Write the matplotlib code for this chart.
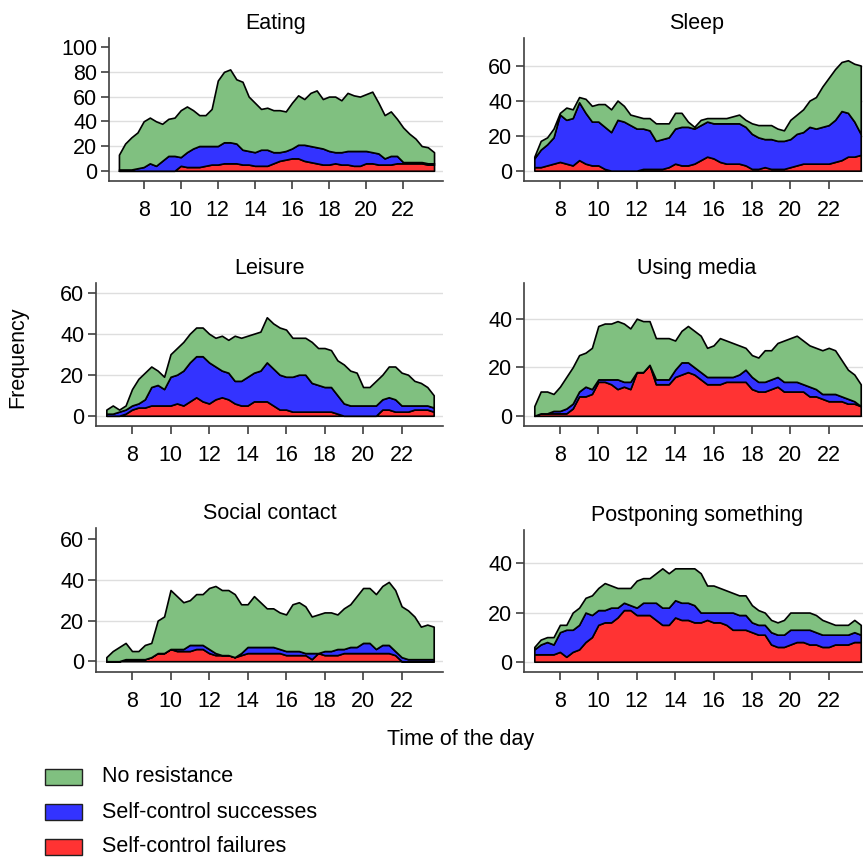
import numpy as np
import matplotlib
matplotlib.use("Agg")
import matplotlib.pyplot as plt
from matplotlib.patches import Rectangle

plt.rcParams['font.family'] = ['Liberation Sans', 'DejaVu Sans']

# 20-minute bins from 6:40 to 23:40
hours = np.linspace(20 / 3, 71 / 3, 52)

series_names = ["No resistance", "Self-control successes", "Self-control failures"]
GREEN, BLUE, RED = "#80c080", "#3333ff", "#ff3333"

eating_fail = [0, 0, 0, 0, 0, 0, 0, 0, 0, 0, 4, 3, 3, 3, 4, 5, 5, 6, 6, 6, 5, 5, 4, 4, 4, 6,
               8, 9, 10, 10, 8, 7, 6, 5, 5, 6, 5, 5, 4, 4, 6, 6, 5, 5, 5, 6, 6, 6, 6, 6, 5, 5]
eating_succ = [1, 1, 1, 2, 3, 6, 4, 8, 12, 12, 7, 12, 15, 17, 16, 15, 15, 17, 17, 16, 12, 11, 11, 13, 13, 9,
               7, 7, 8, 11, 13, 13, 13, 13, 11, 9, 10, 11, 12, 12, 10, 9, 9, 5, 7, 6, 1, 1, 1, 1, 1, 1]
eating_nores = [12, 21, 26, 29, 37, 37, 36, 30, 30, 31, 38, 37, 31, 25, 25, 30, 53, 57, 59, 52, 55, 44, 40, 33, 34, 34,
                34, 32, 37, 40, 37, 43, 46, 40, 44, 45, 42, 47, 45, 44, 46, 49, 41, 35, 36, 30, 28, 23, 19, 13, 13, 9]

sleep_fail = [2, 2, 3, 4, 5, 4, 3, 6, 4, 3, 3, 1, 0, 0, 0, 0, 0, 1, 1, 1, 1, 2, 4, 3, 3, 4,
              6, 8, 7, 5, 4, 4, 4, 3, 1, 1, 2, 1, 1, 1, 2, 3, 4, 4, 4, 4, 4, 5, 6, 8, 8, 9]
sleep_succ = [5, 10, 12, 15, 27, 25, 27, 33, 29, 25, 25, 24, 22, 29, 28, 26, 24, 23, 22, 16, 17, 17, 20, 22, 22, 20,
              20, 20, 20, 22, 23, 23, 23, 22, 20, 18, 16, 17, 16, 16, 16, 18, 18, 21, 20, 21, 22, 24, 28, 25, 20, 12]
sleep_nores = [1, 5, 4, 5, 1, 7, 5, 3, 8, 9, 10, 13, 13, 11, 9, 6, 7, 6, 7, 10, 9, 8, 9, 8, 3, 1,
               3, 2, 3, 3, 3, 4, 5, 4, 6, 7, 8, 8, 7, 6, 11, 11, 13, 15, 18, 23, 27, 29, 28, 30, 33, 39]

leisure_fail = [0, 0, 0, 1, 3, 4, 4, 5, 5, 5, 5, 6, 5, 7, 9, 7, 6, 8, 9, 8, 6, 5, 5, 7, 7, 7,
                5, 3, 3, 2, 2, 2, 2, 2, 2, 2, 1, 0, 0, 0, 0, 0, 0, 3, 3, 2, 2, 2, 3, 3, 3, 2]
leisure_succ = [1, 1, 2, 2, 2, 2, 4, 9, 10, 8, 14, 14, 17, 19, 20, 22, 20, 16, 13, 13, 11, 12, 14, 14, 15, 19,
                18, 17, 16, 17, 18, 18, 14, 13, 12, 12, 9, 6, 5, 5, 5, 5, 5, 5, 6, 6, 3, 3, 2, 2, 2, 2]
leisure_nores = [2, 4, 1, 2, 8, 12, 13, 10, 7, 6, 11, 13, 14, 14, 14, 14, 14, 14, 17, 16, 22, 21, 20, 19, 19, 22,
                 22, 23, 23, 19, 18, 18, 20, 18, 19, 18, 17, 19, 17, 16, 9, 9, 12, 12, 15, 16, 16, 15, 12, 11, 9, 6]

media_fail = [0, 1, 1, 1, 1, 1, 3, 8, 8, 9, 14, 14, 13, 11, 12, 11, 18, 18, 21, 13, 13, 13, 16, 17, 18, 17,
              15, 13, 13, 13, 14, 14, 14, 14, 11, 10, 10, 11, 12, 10, 10, 10, 10, 8, 8, 7, 6, 6, 6, 5, 5, 4]
media_succ = [0, 0, 0, 1, 1, 2, 2, 2, 4, 2, 1, 1, 2, 4, 2, 3, 0, 0, 0, 2, 2, 2, 3, 5, 4, 3,
              3, 3, 3, 3, 2, 2, 3, 5, 5, 4, 4, 4, 4, 4, 4, 4, 3, 4, 3, 2, 3, 3, 2, 2, 1, 0]
media_nores = [4, 9, 9, 7, 10, 13, 15, 15, 14, 17, 22, 23, 23, 24, 24, 22, 22, 21, 18, 17, 17, 17, 12, 13, 15, 15,
               15, 12, 13, 16, 15, 14, 12, 9, 9, 10, 13, 12, 14, 17, 18, 19, 18, 17, 17, 18, 19, 18, 15, 12, 11, 9]

social_fail = [0, 0, 0, 1, 1, 1, 1, 2, 4, 4, 6, 5, 5, 5, 6, 6, 4, 3, 3, 3, 2, 3, 4, 4, 4, 4,
               4, 4, 3, 3, 3, 3, 1, 4, 3, 3, 3, 4, 4, 4, 4, 4, 4, 4, 4, 3, 0, 0, 0, 0, 0, 0]
social_succ = [0, 0, 0, 0, 0, 0, 0, 0, 0, 0, 0, 1, 1, 3, 2, 2, 2, 1, 0, 0, 0, 1, 3, 3, 3, 3,
               3, 2, 2, 2, 2, 1, 3, 0, 2, 2, 3, 2, 3, 3, 5, 5, 2, 4, 4, 2, 2, 1, 1, 1, 1, 1]
social_nores = [2, 5, 7, 8, 4, 4, 7, 7, 16, 18, 29, 26, 23, 22, 25, 25, 30, 33, 32, 32, 31, 24, 21, 25, 22, 19,
                19, 18, 18, 23, 24, 23, 18, 19, 19, 19, 17, 20, 21, 25, 27, 27, 27, 29, 31, 30, 25, 24, 21, 16, 17, 16]

postpone_fail = [3, 3, 3, 3, 4, 2, 4, 5, 8, 10, 15, 16, 16, 18, 21, 21, 19, 19, 19, 17, 15, 15, 18, 17, 17, 16,
                 16, 17, 16, 16, 15, 13, 13, 13, 12, 11, 11, 7, 6, 6, 7, 8, 8, 7, 7, 6, 6, 7, 7, 7, 8, 8]
postpone_succ = [2, 4, 5, 4, 8, 11, 9, 10, 12, 9, 6, 5, 6, 4, 3, 2, 3, 5, 5, 7, 7, 7, 7, 7, 7, 7,
                 4, 3, 4, 4, 5, 7, 6, 6, 4, 4, 4, 5, 5, 5, 6, 5, 5, 6, 5, 5, 5, 4, 4, 4, 4, 3]
postpone_nores = [1, 2, 2, 3, 3, 2, 7, 7, 6, 8, 9, 11, 9, 8, 6, 7, 11, 10, 10, 12, 16, 14, 13, 14, 14, 15,
                  16, 11, 11, 10, 9, 8, 8, 8, 7, 6, 5, 5, 5, 6, 7, 7, 7, 7, 7, 6, 5, 4, 4, 4, 5, 4]

xticks = [8, 10, 12, 14, 16, 18, 20, 22]

W, H = 863, 858
fig = plt.figure(figsize=(W / 100, H / 100), dpi=100)

FS = 15.5
AXC = "#404040"
GRIDC = "#dedede"

# title, (fail, succ, nores), y-limits, y-ticks, gridline values, box (left, right, top, bottom) in px
panels = [
    ("Eating", (eating_fail, eating_succ, eating_nores), (-8.3, 107.4), [0, 20, 40, 60, 80, 100],
     [0, 20, 40, 60, 80], (109, 443, 38, 181)),
    ("Sleep", (sleep_fail, sleep_succ, sleep_nores), (-5.9, 75.7), [0, 20, 40, 60],
     [0, 20, 40, 60], (524, 870, 38, 181)),
    ("Leisure", (leisure_fail, leisure_succ, leisure_nores), (-5.0, 64.7), [0, 20, 40, 60],
     [0, 20, 40, 60], (96, 443, 283, 426)),
    ("Using media", (media_fail, media_succ, media_nores), (-4.2, 54.7), [0, 20, 40],
     [0, 20, 40], (524, 870, 283, 426)),
    ("Social contact", (social_fail, social_succ, social_nores), (-5.3, 65.5), [0, 20, 40, 60],
     [0, 20, 40], (96, 443, 528, 672)),
    ("Postponing something", (postpone_fail, postpone_succ, postpone_nores), (-4.2, 53.6), [0, 20, 40],
     [0, 20, 40], (524, 870, 530, 672)),
]

for title, (fail, succ, nores), ylim, yticks, grid_vals, (l, r, t, b) in panels:
    ax = fig.add_axes([l / W, 1 - b / H, (r - l) / W, (b - t) / H])
    for v in grid_vals:
        ax.axhline(v, color=GRIDC, lw=1.0, zorder=0)
    ax.stackplot(hours, fail, succ, nores, colors=[RED, BLUE, GREEN],
                 edgecolor="black", linewidth=1.2, zorder=2)
    ax.set_xlim(6.13, 24.15)
    ax.set_ylim(*ylim)
    ax.set_xticks(xticks)
    ax.set_yticks(yticks)
    ax.tick_params(axis="both", direction="out", length=5.5, width=1.2, color=AXC,
                   labelsize=FS, labelcolor="black")
    ax.tick_params(axis="x", pad=8)
    ax.tick_params(axis="y", pad=3)
    for side in ("top", "right"):
        ax.spines[side].set_visible(False)
    for side in ("left", "bottom"):
        ax.spines[side].set_color(AXC)
        ax.spines[side].set_linewidth(1.2)
    ax.set_title(title, fontsize=FS, pad=6.5)
    ax.set_facecolor("white")

fig.text(18 / W, 1 - 357 / H, "Frequency", rotation=90, ha="center", va="center", fontsize=FS)
fig.text(461 / W, 1 - 740 / H, "Time of the day", ha="center", va="center", fontsize=FS)

# legend drawn as figure-level patches and labels
legend_rows = [(series_names[0], GREEN, 777), (series_names[1], BLUE, 812), (series_names[2], RED, 847)]
for label, col, yc in legend_rows:
    fig.add_artist(Rectangle((45 / W, 1 - (yc + 8) / H), 37 / W, 16 / H, transform=fig.transFigure,
                             facecolor=col, edgecolor="#202020", linewidth=1.0))
    fig.text(102 / W, 1 - yc / H, label, ha="left", va="center", fontsize=FS)

fig.savefig("out.png", dpi=100, facecolor="white")
